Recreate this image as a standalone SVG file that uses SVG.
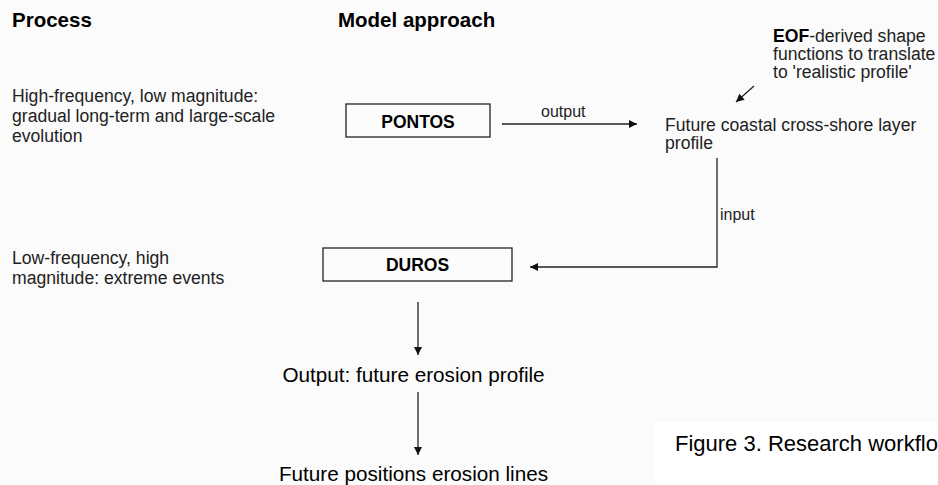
<svg xmlns="http://www.w3.org/2000/svg" width="938" height="485" viewBox="0 0 938 485">
  <defs>
    <style>
      text { font-family: "Liberation Sans", Arial, sans-serif; fill: #111; }
      .h { font-weight: bold; font-size: 20.5px; fill: #000; }
      .b { font-size: 17.6px; fill: #222; }
      .box { fill: #fcfcfc; stroke: #222; stroke-width: 1.3; }
      .bl { font-weight: bold; font-size: 17.5px; fill: #000; }
      .lbl { font-size: 16px; fill: #222; }
      .big { font-size: 20.7px; fill: #000; }
      .cap { font-size: 22px; fill: #000; }
      .con { fill: none; stroke: #222; stroke-width: 1.3; }
    </style>
    <marker id="ah" viewBox="0 0 10 10" refX="10" refY="5" markerWidth="9" markerHeight="8" markerUnits="userSpaceOnUse" orient="auto">
      <path d="M0,0 L10,5 L0,10 Z" fill="#111"/>
    </marker>
  </defs>
  <rect x="0" y="0" width="938" height="485" fill="#fbfbfb"/>
  <rect x="655" y="422" width="283" height="63" fill="#ffffff"/>

  <g id="headers">
    <text class="h" x="12" y="27">Process</text>
    <text class="h" x="338" y="27">Model approach</text>
  </g>

  <g id="process-high">
    <text class="b" x="12" y="101.5">High-frequency, low magnitude:</text>
    <text class="b" x="12" y="121.5">gradual long-term and large-scale</text>
    <text class="b" x="12" y="141.5">evolution</text>
  </g>

  <g id="process-low">
    <text class="b" x="12" y="264">Low-frequency, high</text>
    <text class="b" x="12" y="284">magnitude: extreme events</text>
  </g>

  <g id="pontos">
    <rect class="box" x="346" y="104" width="144" height="33"/>
    <text class="bl" x="418" y="127.5" text-anchor="middle">PONTOS</text>
  </g>

  <g id="duros">
    <rect class="box" x="323" y="248" width="189" height="33"/>
    <text class="bl" x="417.5" y="271" text-anchor="middle">DUROS</text>
  </g>

  <g id="eof">
    <text class="b" x="773" y="41.5"><tspan font-weight="bold" fill="#000">EOF</tspan>-derived shape</text>
    <text class="b" x="773" y="59.5">functions to translate</text>
    <text class="b" x="773" y="77.5">to 'realistic profile'</text>
  </g>

  <g id="future-profile">
    <text class="b" x="665" y="131">Future coastal cross-shore layer</text>
    <text class="b" x="665" y="149">profile</text>
  </g>

  <g id="erosion-profile">
    <text class="big" x="413.5" y="381.5" text-anchor="middle">Output: future erosion profile</text>
  </g>

  <g id="erosion-lines">
    <text class="big" x="413.5" y="481" text-anchor="middle">Future positions erosion lines</text>
  </g>

  <g id="caption">
    <text class="cap" x="675" y="450.5">Figure 3. Research workflow</text>
  </g>

  <g id="connectors">
    <line class="con" x1="502" y1="124" x2="637" y2="124" marker-end="url(#ah)"/>
    <text class="lbl" x="541" y="116.5">output</text>
    <line class="con" x1="754" y1="86" x2="736" y2="102" marker-end="url(#ah)"/>
    <polyline class="con" points="717,158 717,267 530,267" marker-end="url(#ah)"/>
    <text class="lbl" x="720" y="220">input</text>
    <line class="con" x1="418" y1="302" x2="418" y2="355" marker-end="url(#ah)"/>
    <line class="con" x1="418" y1="392" x2="418" y2="455" marker-end="url(#ah)"/>
  </g>
</svg>
